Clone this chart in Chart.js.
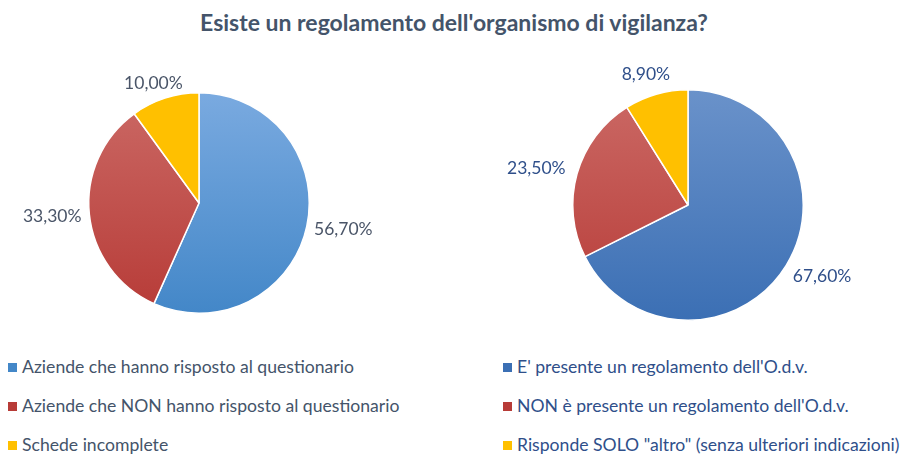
<!DOCTYPE html>
<html lang="it">
<head>
<meta charset="utf-8">
<script src="https://cdn.jsdelivr.net/npm/chart.js@4.4.1/dist/chart.umd.min.js"></script>
<style>
    body { margin: 0; background: #fff; font-family: Lato, "Open Sans", sans-serif; }
    .pagina { position: relative; width: 901px; height: 455px; overflow: hidden; }
    .titolo { position: absolute; left: 0; top: 8px; width: 908px; text-align: center;
        font-weight: bold; font-size: 23px; color: #44546A; }
    canvas { position: absolute; }
    .legenda { position: absolute; top: 356px; font-size: 17.6px; }
    .voce { height: 39px; white-space: nowrap; }
    .quadrato { display: inline-block; width: 9px; height: 9px; margin-right: 5px; vertical-align: 1px; }
</style>
</head>
<body>
<div class="pagina">
    <div class="titolo">Esiste un regolamento dell'organismo di vigilanza?</div>
    <canvas id="torta1" width="450" height="300" style="left:0;top:40px"></canvas>
    <canvas id="torta2" width="451" height="300" style="left:450px;top:40px"></canvas>
    <div class="legenda" id="legenda1" style="left:8px;color:#44546A"></div>
    <div class="legenda" id="legenda2" style="left:503px;color:#2F4F8A"></div>
</div>
<script>
// dati grafico di sinistra
const etichetteSinistra = [
    "Aziende che hanno risposto al questionario",
    "Aziende che NON hanno risposto al questionario",
    "Schede incomplete"
];
const valoriSinistra = [56.7, 33.3, 10.0];

// dati grafico di destra
const etichetteDestra = [
    "E' presente un regolamento dell'O.d.v.",
    "NON è presente un regolamento dell'O.d.v.",
    "Risponde SOLO \"altro\" (senza ulteriori indicazioni)"
];
const valoriDestra = [67.6, 23.5, 8.9];

// colori sfumati (alto, basso)
const coloriSinistra = [["#7AAAE0", "#4387C8"], ["#CB6965", "#B73B37"], ["#FFC000", "#FFC000"]];
const coloriDestra = [["#6A92CA", "#3B6FB4"], ["#CB6965", "#B73B37"], ["#FFC000", "#FFC000"]];

function formatta(v) {
    return v.toFixed(2).replace(".", ",") + "%";
}

// etichette percentuali fuori dalla torta
const etichetteFuori = {
    id: "etichetteFuori",
    afterDatasetsDraw(chart, args, opts) {
        const ctx = chart.ctx;
        const meta = chart.getDatasetMeta(0);
        const valori = chart.data.datasets[0].data;
        ctx.save();
        ctx.font = "17.5px Lato, 'Open Sans', sans-serif";
        ctx.fillStyle = opts.colore;
        ctx.textAlign = "center";
        ctx.textBaseline = "middle";
        meta.data.forEach((arco, i) => {
            const p = arco.getProps(["x", "y", "startAngle", "endAngle", "outerRadius"], true);
            const medio = (p.startAngle + p.endAngle) / 2;
            const dx = Math.cos(medio), dy = Math.sin(medio);
            const testo = formatta(valori[i]);
            const w = ctx.measureText(testo).width;
            const h = 16;
            const d = p.outerRadius + opts.distanza;
            ctx.fillText(testo, p.x + dx * d + dx * w / 2, p.y + dy * d + dy * h / 2);
        });
        ctx.restore();
    }
};

function sfumatura(colori) {
    return (context) => {
        const chart = context.chart;
        const area = chart.chartArea;
        const c = colori[context.dataIndex];
        if (!area) return c[1];
        const g = chart.ctx.createLinearGradient(0, area.top, 0, area.bottom);
        g.addColorStop(0, c[0]);
        g.addColorStop(1, c[1]);
        return g;
    };
}

function creaTorta(id, etichette, valori, colori, padding, coloreTesto, distanza) {
    return new Chart(document.getElementById(id), {
        type: "pie",
        data: {
            labels: etichette,
            datasets: [{
                data: valori,
                backgroundColor: sfumatura(colori),
                borderColor: "#ffffff",
                borderWidth: 1.5
            }]
        },
        options: {
            responsive: false,
            animation: false,
            layout: { padding },
            plugins: {
                legend: { display: false },
                tooltip: { enabled: false },
                etichetteFuori: { colore: coloreTesto, distanza }
            }
        },
        plugins: [etichetteFuori]
    });
}

function creaLegenda(id, etichette, colori) {
    let html = ``;
    etichette.forEach((et, i) => {
        html += `<div class="voce"><span class="quadrato" style="background:${colori[i][1]}"></span>${et}</div>`;
    });
    document.getElementById(id).innerHTML = html;
}

creaTorta("torta1", etichetteSinistra, valoriSinistra, coloriSinistra,
    { left: 88, right: 140, top: 52, bottom: 26 }, "#4A5568", 8);
creaTorta("torta2", etichetteDestra, valoriDestra, coloriDestra,
    { left: 122, right: 97, top: 49, bottom: 19 }, "#2F4F8A", 13);
creaLegenda("legenda1", etichetteSinistra, coloriSinistra);
creaLegenda("legenda2", etichetteDestra, coloriDestra);
</script>
</body>
</html>
